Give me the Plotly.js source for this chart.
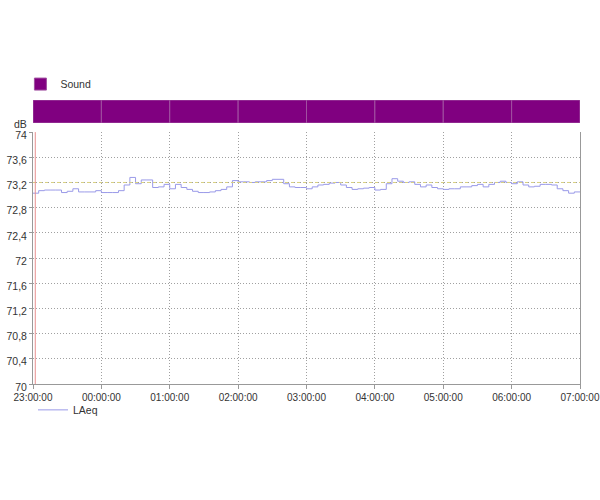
<!DOCTYPE html>
<html>
<head>
<meta charset="utf-8">
<script src="https://cdn.plot.ly/plotly-3.0.1.min.js"></script>
<style>
  html, body { margin: 0; padding: 0; background: #fff; }
  #chart { width: 600px; height: 500px; }
</style>
</head>
<body>
<div id="chart"></div>
<script>
// LAeq, one value per 5 minutes from 23:00 to 07:00
let laeq = [
    73.03, 73.07, 73.08, 73.08, 73.08, 73.04, 73.06, 73.10, 73.05, 73.05, 73.05, 73.07,
    73.04, 73.04, 73.04, 73.07, 73.16, 73.28, 73.18, 73.24, 73.24, 73.12, 73.13, 73.17,
    73.10, 73.17, 73.12, 73.09, 73.06, 73.04, 73.04, 73.05, 73.07, 73.09, 73.13, 73.23,
    73.21, 73.21, 73.20, 73.21, 73.21, 73.23, 73.25, 73.25, 73.18, 73.13, 73.12, 73.12,
    73.10, 73.13, 73.16, 73.17, 73.19, 73.20, 73.16, 73.12, 73.09, 73.10, 73.11, 73.12,
    73.08, 73.09, 73.18, 73.26, 73.22, 73.20, 73.21, 73.17, 73.13, 73.16, 73.12, 73.10,
    73.09, 73.10, 73.10, 73.13, 73.13, 73.15, 73.17, 73.13, 73.17, 73.20, 73.22, 73.20,
    73.18, 73.21, 73.16, 73.13, 73.14, 73.17, 73.17, 73.16, 73.10, 73.07, 73.03, 73.05
];
let stepMinutes = 5;
let startTime = '2024-01-01 23:00:00';
let endTime = '2024-01-02 07:00:00';

// "Sound" marker track, one block per hour
let soundHours = [
    '2024-01-01 23:00:00', '2024-01-02 00:00:00', '2024-01-02 01:00:00', '2024-01-02 02:00:00',
    '2024-01-02 03:00:00', '2024-01-02 04:00:00', '2024-01-02 05:00:00', '2024-01-02 06:00:00'
];

let referenceLevel = 73.2;
let markerTime = '2024-01-01 23:02:00';

let yTicks = [70, 70.4, 70.8, 71.2, 71.6, 72, 72.4, 72.8, 73.2, 73.6, 74];

function toStamp(d) {
    let p = n => String(n).padStart(2, '0');
    return d.getFullYear() + '-' + p(d.getMonth() + 1) + '-' + p(d.getDate()) + ' ' +
        p(d.getHours()) + ':' + p(d.getMinutes()) + ':' + p(d.getSeconds());
}

let t0 = new Date(startTime.replace(' ', 'T'));
let times = [];
for (let i = 0; i < laeq.length; ++i) {
    times.push(toStamp(new Date(t0.getTime() + i * stepMinutes * 60000)));
}
// close the last step at the end of the period
let stepX = times.concat([endTime]);
let stepY = laeq.concat([laeq[laeq.length - 1]]);

let hourMs = 3600000;
let soundCenters = soundHours.map(h => toStamp(new Date(new Date(h.replace(' ', 'T')).getTime() + hourMs / 2)));
let xTicks = soundHours.concat([endTime]);

let lineTrace = {
    x: stepX,
    y: stepY,
    mode: 'lines',
    line: { shape: 'hv', color: '#9a9ae8', width: 1 },
    name: 'LAeq',
    legend: 'legend',
    hoverinfo: 'skip'
};

let soundTrace = {
    type: 'bar',
    x: soundCenters,
    y: soundHours.map(() => 1),
    width: soundHours.map(() => hourMs),
    xaxis: 'x2',
    yaxis: 'y2',
    marker: { color: '#800080', line: { color: '#a050a0', width: 1 } },
    name: 'Sound',
    legend: 'legend2',
    hoverinfo: 'skip'
};

let font = { family: 'Liberation Sans, Arial, sans-serif', size: 10.5, color: '#333' };
let xFont = { family: 'Liberation Sans, Arial, sans-serif', size: 10, color: '#333' };
let gridDash = '1px,2px';

let layout = {
    width: 600,
    height: 500,
    margin: { l: 33, r: 20, t: 100, b: 116 },
    paper_bgcolor: '#fff',
    plot_bgcolor: '#fff',
    font: font,
    bargap: 0,
    xaxis: {
        type: 'date',
        range: [startTime, endTime],
        tickvals: xTicks,
        tickformat: '%H:%M:%S',
        tickfont: xFont,
        showgrid: true,
        gridcolor: '#a0a0a0',
        griddash: gridDash,
        gridwidth: 1,
        showline: true,
        linecolor: '#999',
        ticks: 'outside',
        ticklen: 4,
        tickcolor: '#999',
        zeroline: false,
        domain: [0, 1]
    },
    yaxis: {
        range: [70, 74],
        tickvals: yTicks,
        ticktext: yTicks.map(v => String(v).replace('.', ',')),
        ticklabelshift: 3,
        showgrid: true,
        gridcolor: '#a0a0a0',
        griddash: gridDash,
        gridwidth: 1,
        showline: true,
        linecolor: '#999',
        mirror: true,
        ticks: 'outside',
        ticklen: 3,
        tickcolor: '#999',
        zeroline: false,
        domain: [0, 0.887]
    },
    xaxis2: {
        type: 'date',
        matches: 'x',
        anchor: 'y2',
        showticklabels: false,
        showgrid: false,
        zeroline: false
    },
    yaxis2: {
        range: [0, 1],
        domain: [0.919, 1],
        anchor: 'x2',
        showticklabels: false,
        showgrid: false,
        zeroline: false
    },
    shapes: [
        {
            type: 'line', xref: 'paper', x0: 0, x1: 1,
            yref: 'y', y0: referenceLevel, y1: referenceLevel,
            line: { color: '#d8d080', width: 1, dash: 'dot' }
        },
        {
            type: 'line', xref: 'x', x0: markerTime, x1: markerTime,
            yref: 'paper', y0: 0, y1: 0.887,
            line: { color: '#e89090', width: 1 }
        }
    ],
    annotations: [
        {
            text: 'dB', xref: 'paper', yref: 'paper', x: 0, y: 0.887,
            xanchor: 'right', yanchor: 'bottom', xshift: -4, yshift: 0,
            showarrow: false, font: font
        }
    ],
    legend: {
        x: 0, y: -0.04, xanchor: 'left', yanchor: 'top',
        orientation: 'h', font: font, bgcolor: 'rgba(0,0,0,0)'
    },
    legend2: {
        x: -0.023, y: 1.005, xanchor: 'left', yanchor: 'bottom',
        orientation: 'h', font: font, bgcolor: 'rgba(0,0,0,0)',
        itemwidth: 30
    },
    showlegend: true
};

Plotly.newPlot('chart', [lineTrace, soundTrace], layout, { displayModeBar: false, staticPlot: true });
</script>
</body>
</html>
